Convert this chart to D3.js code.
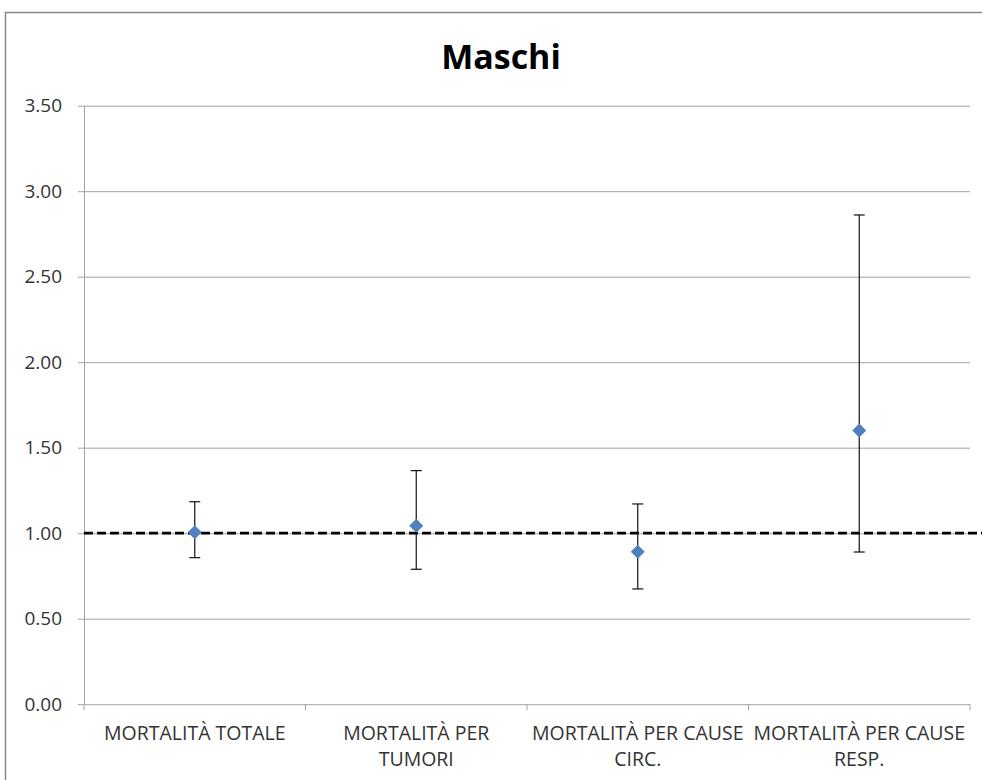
<!DOCTYPE html>
<html>
<head>
<meta charset="utf-8">
<script src="https://cdn.jsdelivr.net/npm/d3@7"></script>
<style>
    body { margin: 0; background: #fff; }
    svg { display: block; font-family: "Open Sans", sans-serif; }
</style>
</head>
<body>
<div id="chart"></div>
<script>
// values
const categories = ["MORTALITÀ TOTALE", "MORTALITÀ PER TUMORI", "MORTALITÀ PER CAUSE CIRC.", "MORTALITÀ PER CAUSE RESP."];
const estimates = [1.005, 1.044, 0.892, 1.60];
const lowerCI = [0.857, 0.789, 0.674, 0.89];
const upperCI = [1.184, 1.366, 1.171, 2.861];
const yTicks = [0, 0.5, 1, 1.5, 2, 2.5, 3, 3.5];
const refValue = 1.0;

const width = 982, height = 780;
const margin = { top: 105.7, right: 12, bottom: 75.8, left: 84 };

const data = categories.map((c, i) => ({ cat: c, est: estimates[i], lo: lowerCI[i], hi: upperCI[i] }));

const svg = d3.select("#chart").append("svg")
    .attr("width", width)
    .attr("height", height);

// chart frame
svg.append("rect")
    .attr("x", 5.5).attr("y", 12.5)
    .attr("width", width + 20).attr("height", height + 20)
    .attr("fill", "none")
    .attr("stroke", "#878787")
    .attr("stroke-width", 1.5);

const xScale = d3.scaleBand()
    .domain(categories)
    .range([margin.left, width - margin.right])
    .padding(0);

const yScale = d3.scaleLinear()
    .domain([0, 3.5])
    .range([height - margin.bottom, margin.top]);

// gridlines
svg.append("g")
    .attr("class", "grid")
    .attr("transform", `translate(${margin.left},0)`)
    .call(d3.axisLeft(yScale).tickValues(yTicks).tickSize(-(width - margin.right - margin.left)).tickFormat(""))
    .call(g => g.select(".domain").remove())
    .selectAll("line")
    .attr("stroke", "#a3a3a3");

// y axis
svg.append("g")
    .attr("class", "y-axis")
    .attr("transform", `translate(${margin.left},0)`)
    .call(d3.axisLeft(yScale).tickValues(yTicks).tickSize(6).tickSizeOuter(0).tickPadding(16).tickFormat(d3.format(".2f")))
    .attr("font-family", null)
    .call(g => g.select(".domain").attr("stroke", "#a3a3a3"))
    .call(g => g.selectAll(".tick line").attr("stroke", "#a3a3a3"))
    .selectAll("text")
    .style("font-family", "'Open Sans', sans-serif")
    .style("font-size", "19px")
    .style("fill", "#333");

// x axis: boundary ticks
const bounds = categories.map(c => xScale(c)).concat([xScale.range()[1]]);
svg.append("g")
    .attr("class", "x-ticks")
    .selectAll("line")
    .data(bounds)
    .join("line")
    .attr("x1", d => d).attr("x2", d => d)
    .attr("y1", yScale(0)).attr("y2", yScale(0) + 6)
    .attr("stroke", "#a3a3a3");

// x labels, wrapped to the band
const xLabels = svg.append("g")
    .attr("class", "x-labels")
    .selectAll("text")
    .data(categories)
    .join("text")
    .attr("x", d => xScale(d) + xScale.bandwidth() / 2)
    .attr("y", yScale(0) + 36)
    .attr("text-anchor", "middle")
    .style("font-size", "19.5px")
    .style("fill", "#333");

xLabels.each(function(d) {
    const text = d3.select(this);
    const words = d.split(" ");
    const x = text.attr("x");
    let line = [];
    let tspan = text.append("tspan").attr("x", x).attr("dy", 0);
    words.forEach(w => {
        line.push(w);
        tspan.text(line.join(" "));
        if (tspan.node().getComputedTextLength() > xScale.bandwidth() - 8 && line.length > 1) {
            line.pop();
            tspan.text(line.join(" "));
            line = [w];
            tspan = text.append("tspan").attr("x", x).attr("dy", 26).text(w);
        }
    });
});

// reference line at 1
svg.append("line")
    .attr("x1", margin.left)
    .attr("x2", width)
    .attr("y1", yScale(refValue))
    .attr("y2", yScale(refValue))
    .attr("stroke", "#000")
    .attr("stroke-width", 2.8)
    .attr("stroke-dasharray", "9,4");

// error bars
const cx = d => xScale(d.cat) + xScale.bandwidth() / 2;
const bars = svg.append("g").attr("class", "error-bars");

bars.selectAll(".whisker")
    .data(data)
    .join("line")
    .attr("class", "whisker")
    .attr("x1", cx).attr("x2", cx)
    .attr("y1", d => yScale(d.lo))
    .attr("y2", d => yScale(d.hi))
    .attr("stroke", "#111")
    .attr("stroke-width", 1.2);

["lo", "hi"].forEach(k => {
    bars.selectAll(`.cap-${k}`)
        .data(data)
        .join("line")
        .attr("class", `cap-${k}`)
        .attr("x1", d => cx(d) - 5.5).attr("x2", d => cx(d) + 5.5)
        .attr("y1", d => yScale(d[k]))
        .attr("y2", d => yScale(d[k]))
        .attr("stroke", "#111")
        .attr("stroke-width", 1.2);
});

// diamond markers
svg.append("g")
    .attr("class", "points")
    .selectAll("path")
    .data(data)
    .join("path")
    .attr("d", d3.symbol().type(d3.symbolDiamond2).size(125))
    .attr("transform", d => `translate(${cx(d)},${yScale(d.est)})`)
    .attr("fill", "#4f81bd");

// title
svg.append("text")
    .attr("x", 501)
    .attr("y", 69)
    .attr("text-anchor", "middle")
    .style("font-size", "34px")
    .style("font-weight", "bold")
    .style("fill", "#000")
    .text("Maschi");
</script>
</body>
</html>
